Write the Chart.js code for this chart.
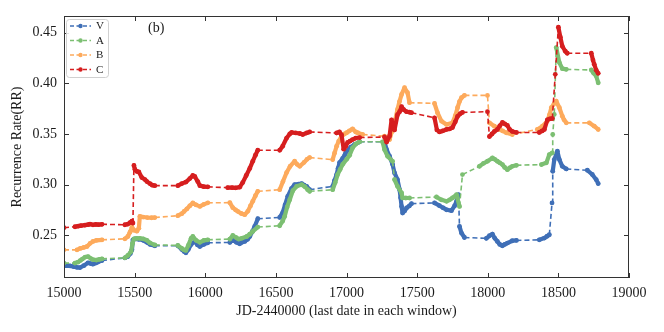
<!DOCTYPE html>
<html><head><meta charset="utf-8">
<script src="https://cdn.jsdelivr.net/npm/chart.js@4.4.1/dist/chart.umd.min.js"></script>
<style>html,body{margin:0;padding:0;background:#fff}</style>
</head><body>
<canvas id="c" width="664" height="332"></canvas>
<script>
const X_TICKS = [15000,15500,16000,16500,17000,17500,18000,18500,19000];
const Y_TICKS = [0.25,0.30,0.35,0.40,0.45];
const NAMES = ['V','A','B','C'];
const COLORS = ['#3f6fb7','#7cbf72','#fdaa5c','#d61e1f'];

const SERIES_V = [
[15000,0.2198],[15042,0.2198],[15070,0.2190],[15092,0.2183],[15113,0.2181],[15140,0.2200],[15170,0.2228],[15190,0.2220],[15205,0.2215],[15225,0.2225],[15240,0.2235],[15269,0.2250],
[15431,0.2277],[15452,0.2290],[15470,0.2320],[15481,0.2356],[15488,0.2455],[15502,0.2465],[15530,0.2460],[15560,0.2450],[15587,0.2430],[15610,0.2410],[15643,0.2396],
[15806,0.2396],[15834,0.2360],[15850,0.2340],[15863,0.2327],[15880,0.2360],[15900,0.2410],[15926,0.2439],[15945,0.2405],[15962,0.2389],[15990,0.2410],[16018,0.2426],
[16174,0.2429],[16195,0.2455],[16220,0.2430],[16244,0.2416],[16260,0.2430],[16280,0.2439],[16300,0.2460],[16315,0.2488],[16335,0.2540],[16350,0.2587],[16372,0.2663],
[16527,0.2676],[16548,0.2723],[16565,0.2800],[16584,0.2884],[16610,0.2960],[16633,0.3000],[16660,0.3005],[16683,0.3010],[16700,0.2995],[16718,0.2983],[16739,0.2950],
[16902,0.2983],[16915,0.3040],[16930,0.3099],[16940,0.3160],[16951,0.3218],[16973,0.3260],[16990,0.3300],[17001,0.3330],[17030,0.3370],[17057,0.3396],[17093,0.3423],
[17269,0.3423],[17284,0.3346],[17305,0.3280],[17326,0.3200],[17340,0.3116],[17361,0.3049],[17376,0.2950],[17383,0.2870],[17390,0.2785],[17397,0.2720],[17411,0.2740],[17425,0.2769],[17445,0.2790],[17460,0.2812],
[17623,0.2819],[17658,0.2792],[17685,0.2770],[17708,0.2752],[17743,0.2743],[17765,0.2790],[17779,0.2835],[17793,0.2901],
[17800,0.2587],[17814,0.2522],[17835,0.2478],
[17990,0.2470],[18012,0.2495],[18033,0.2512],[18050,0.2470],[18068,0.2439],[18085,0.2410],[18104,0.2396],[18120,0.2410],[18139,0.2423],[18174,0.2446],[18203,0.2449],
[18365,0.2455],[18401,0.2472],[18420,0.2490],[18436,0.2505],
[18455,0.2819],[18460,0.3132],[18471,0.3247],[18493,0.3330],[18507,0.3247],[18528,0.3181],[18556,0.3155],
[18705,0.3142],[18740,0.3100],[18768,0.3049],[18782,0.3010]
];

const SERIES_A = [
[15000,0.2225],[15078,0.2225],[15100,0.2235],[15115,0.2250],[15130,0.2265],[15150,0.2285],[15170,0.2290],[15190,0.2270],[15205,0.2260],[15230,0.2255],[15250,0.2262],[15269,0.2267],
[15431,0.2277],[15452,0.2300],[15475,0.2340],[15485,0.2420],[15495,0.2465],[15516,0.2470],[15537,0.2470],[15560,0.2465],[15587,0.2450],[15608,0.2425],[15643,0.2405],
[15806,0.2400],[15834,0.2370],[15850,0.2355],[15863,0.2350],[15880,0.2400],[15900,0.2470],[15912,0.2488],[15935,0.2450],[15962,0.2430],[15990,0.2450],[16018,0.2455],
[16174,0.2462],[16195,0.2498],[16216,0.2480],[16235,0.2462],[16258,0.2470],[16294,0.2488],[16315,0.2510],[16336,0.2538],[16372,0.2581],
[16527,0.2594],[16548,0.2640],[16562,0.2686],[16580,0.2780],[16598,0.2851],[16620,0.2940],[16647,0.2983],[16683,0.3000],[16705,0.2980],[16725,0.2950],[16739,0.2934],
[16902,0.2950],[16920,0.3020],[16937,0.3099],[16955,0.3150],[16973,0.3200],[17001,0.3250],[17022,0.3290],[17043,0.3363],[17065,0.3400],[17093,0.3423],
[17255,0.3423],[17269,0.3346],[17291,0.3280],[17326,0.3230],[17340,0.3050],[17361,0.2983],[17390,0.2918],[17397,0.2868],[17420,0.2868],[17446,0.2868],
[17637,0.2878],[17672,0.2850],[17708,0.2835],[17730,0.2850],[17750,0.2868],[17779,0.2901],[17800,0.2785],
[17821,0.3099],
[17941,0.3181],[17970,0.3210],[17998,0.3231],[18033,0.3264],[18050,0.3250],[18068,0.3231],[18085,0.3215],[18104,0.3198],[18120,0.3170],[18139,0.3148],[18155,0.3165],[18174,0.3181],[18203,0.3191],
[18380,0.3198],[18415,0.3215],[18436,0.3297],[18457,0.3314],
[18460,0.3495],[18471,0.3693],[18485,0.4353],[18507,0.4205],[18528,0.4145],[18556,0.4138],
[18733,0.4132],[18750,0.4100],[18768,0.4072],[18782,0.4006]
];

const SERIES_B = [
[15000,0.2356],[15092,0.2356],[15115,0.2370],[15140,0.2380],[15163,0.2389],[15185,0.2420],[15205,0.2439],[15230,0.2450],[15269,0.2455],
[15431,0.2465],[15452,0.2488],[15467,0.2530],[15481,0.2580],[15495,0.2550],[15516,0.2540],[15530,0.2570],[15537,0.2686],[15560,0.2680],[15590,0.2675],[15620,0.2673],[15643,0.2675],
[15806,0.2693],[15834,0.2713],[15850,0.2735],[15870,0.2760],[15890,0.2790],[15912,0.2819],[15935,0.2800],[15962,0.2785],[15990,0.2805],[16018,0.2820],
[16174,0.2822],[16195,0.2772],[16215,0.2750],[16230,0.2736],[16255,0.2715],[16280,0.2703],[16301,0.2736],[16320,0.2790],[16336,0.2835],[16355,0.2890],[16372,0.2934],
[16527,0.2950],[16550,0.3030],[16576,0.3119],[16600,0.3180],[16633,0.3231],[16650,0.3200],[16669,0.3181],[16700,0.3220],[16720,0.3250],[16739,0.3267],
[16902,0.3247],[16915,0.3310],[16930,0.3379],[16945,0.3430],[16965,0.3478],[16985,0.3500],[17001,0.3512],[17020,0.3530],[17043,0.3551],[17065,0.3520],[17079,0.3512],[17114,0.3495],
[17269,0.3478],[17305,0.3445],[17320,0.3520],[17340,0.3610],[17361,0.3742],[17375,0.3820],[17390,0.3891],[17411,0.3957],[17432,0.3908],[17446,0.3809],
[17623,0.3802],[17644,0.3710],[17672,0.3627],[17708,0.3594],[17750,0.3610],[17770,0.3680],[17786,0.3759],[17800,0.3820],[17814,0.3858],[17835,0.3881],
[17998,0.3881],[18012,0.3610],[18047,0.3577],[18083,0.3545],[18105,0.3530],[18132,0.3512],[18174,0.3495],
[18351,0.3545],[18387,0.3577],[18422,0.3627],[18437,0.3690],[18450,0.3759],[18470,0.3800],[18485,0.3825],[18507,0.3759],[18528,0.3676],[18540,0.3640],[18556,0.3610],
[18719,0.3610],[18754,0.3577],[18782,0.3545]
];

const SERIES_C = [
[15000,0.2574],[15078,0.2584],[15100,0.2590],[15120,0.2595],[15148,0.2600],[15170,0.2605],[15184,0.2610],[15205,0.2603],[15225,0.2607],[15245,0.2605],[15269,0.2608],
[15431,0.2604],[15452,0.2610],[15467,0.2625],[15481,0.2640],[15488,0.2620],
[15495,0.3190],[15502,0.3150],[15516,0.3130],[15530,0.3125],[15551,0.3070],[15573,0.3050],[15587,0.3030],[15608,0.3010],[15625,0.2995],[15643,0.2990],
[15806,0.2990],[15834,0.3010],[15863,0.3025],[15891,0.3060],[15912,0.3090],[15926,0.3080],[15947,0.3030],[15962,0.2990],[15990,0.2980],[16018,0.2978],
[16159,0.2970],[16190,0.2970],[16215,0.2968],[16244,0.2975],[16265,0.3020],[16290,0.3090],[16315,0.3160],[16336,0.3230],[16355,0.3290],[16372,0.3340],
[16527,0.3340],[16548,0.3380],[16576,0.3460],[16598,0.3500],[16612,0.3515],[16640,0.3510],[16669,0.3505],[16690,0.3495],[16718,0.3510],[16739,0.3520],
[16930,0.3510],[16950,0.3520],[16965,0.3490],[16980,0.3350],[16995,0.3380],[17008,0.3416],[17025,0.3430],[17043,0.3445],[17065,0.3460],[17093,0.3465],
[17269,0.3470],[17284,0.3420],[17305,0.3480],[17319,0.3640],[17330,0.3560],[17340,0.3540],[17361,0.3690],[17376,0.3720],[17390,0.3770],[17405,0.3740],[17425,0.3720],[17445,0.3715],[17460,0.3710],
[17623,0.3660],[17640,0.3540],[17658,0.3520],[17680,0.3530],[17708,0.3545],[17730,0.3550],[17750,0.3564],[17770,0.3620],[17786,0.3673],[17805,0.3700],[17821,0.3713],
[17998,0.3720],[18012,0.3475],[18030,0.3500],[18047,0.3525],[18068,0.3545],[18085,0.3580],[18104,0.3614],[18120,0.3600],[18139,0.3584],[18155,0.3545],[18174,0.3525],[18203,0.3515],
[18365,0.3515],[18385,0.3530],[18401,0.3545],[18422,0.3640],[18440,0.3650],[18457,0.3653],
[18478,0.4089],[18500,0.4554],[18514,0.4455],[18528,0.4366],[18549,0.4317],[18563,0.4297],
[18733,0.4297],[18745,0.4230],[18754,0.4188],[18768,0.4130],[18782,0.4099]
];

const ALL_SERIES = [SERIES_V, SERIES_A, SERIES_B, SERIES_C];
const FONT = "'Liberation Serif', 'DejaVu Serif', serif";
const TEXT = '#1a1a1a';

function isGap(ctx){
  const a = ctx.p0.parsed, b = ctx.p1.parsed;
  return (b.x - a.x) > 55 || Math.abs(b.y - a.y) > 0.017;
}

const datasets = ALL_SERIES.map((s, i) => ({
  label: NAMES[i],
  data: s.map(p => ({x: p[0], y: p[1]})),
  borderColor: COLORS[i],
  backgroundColor: COLORS[i],
  pointBackgroundColor: COLORS[i],
  pointBorderWidth: 0,
  pointRadius: 2.4,
  pointHoverRadius: 2.4,
  borderWidth: 4.2,
  borderCapStyle: 'round',
  borderJoinStyle: 'round',
  tension: 0,
  order: 3 - i,
  segment: {
    borderDash: ctx => isGap(ctx) ? [5, 3] : [],
    borderWidth: ctx => isGap(ctx) ? 1.6 : 4.2,
    borderCapStyle: ctx => isGap(ctx) ? 'butt' : 'round'
  }
}));

const decor = {
  id: 'decor',
  afterDraw(chart){
    const {ctx, chartArea: a, scales: {x, y}} = chart;
    ctx.save();
    ctx.strokeStyle = '#333';
    ctx.lineWidth = 1;
    ctx.strokeRect(Math.round(a.left) + 0.5, Math.round(a.top) + 0.5, Math.round(a.right - a.left) - 1, Math.round(a.bottom - a.top) - 1);
    const L = 5;
    ctx.beginPath();
    X_TICKS.forEach(v => {
      const px = Math.round(x.getPixelForValue(v)) + 0.5;
      ctx.moveTo(px, a.bottom); ctx.lineTo(px, a.bottom - L);
      ctx.moveTo(px, a.top); ctx.lineTo(px, a.top + L);
    });
    Y_TICKS.forEach(v => {
      const py = Math.round(y.getPixelForValue(v)) + 0.5;
      ctx.moveTo(a.left, py); ctx.lineTo(a.left + L, py);
      ctx.moveTo(a.right, py); ctx.lineTo(a.right - L, py);
    });
    ctx.stroke();

    // legend
    const bx = 66.5, by = 19.5, bw = 42, bh = 58;
    ctx.fillStyle = 'rgba(255,255,255,0.85)';
    ctx.strokeStyle = '#d0d0d0';
    ctx.beginPath();
    ctx.roundRect(bx, by, bw, bh, 3);
    ctx.fill(); ctx.stroke();
    NAMES.forEach((n, i) => {
      const ly = 26 + i * 14.5;
      ctx.strokeStyle = COLORS[i];
      ctx.lineWidth = 1.5;
      ctx.setLineDash([4, 2.5]);
      ctx.beginPath(); ctx.moveTo(70, ly); ctx.lineTo(91, ly); ctx.stroke();
      ctx.setLineDash([]);
      ctx.fillStyle = COLORS[i];
      ctx.beginPath(); ctx.arc(80.5, ly, 2.2, 0, Math.PI * 2); ctx.fill();
      ctx.fillStyle = TEXT;
      ctx.font = '11px ' + FONT;
      ctx.textBaseline = 'middle';
      ctx.textAlign = 'left';
      ctx.fillText(n, 96, ly + 0.5);
    });
    ctx.font = '14px ' + FONT;
    ctx.fillStyle = TEXT;
    ctx.textBaseline = 'middle';
    ctx.fillText('(b)', 148, 28);
    ctx.restore();
  }
};

new Chart(document.getElementById('c'), {
  type: 'line',
  data: { datasets },
  options: {
    responsive: false,
    animation: false,
    devicePixelRatio: 1,
    layout: { padding: { left: 0, right: 35, top: 16, bottom: 0 } },
    plugins: { legend: { display: false }, tooltip: { enabled: false } },
    events: [],
    scales: {
      x: {
        type: 'linear', min: 15000, max: 19000,
        afterBuildTicks: s => { s.ticks = X_TICKS.map(v => ({value: v})); },
        afterFit: s => { s.height = 54; },
        grid: { display: false, drawTicks: false },
        border: { display: false },
        ticks: { padding: 7, autoSkip: false, maxRotation: 0, color: TEXT, font: { family: FONT, size: 14 }, callback: v => String(v) },
        title: { display: true, text: 'JD-2440000 (last date in each window)', color: TEXT, font: { family: FONT, size: 14 }, padding: { top: 0, bottom: 12 } }
      },
      y: {
        type: 'linear', min: 0.2078, max: 0.4665,
        afterBuildTicks: s => { s.ticks = Y_TICKS.map(v => ({value: v})); },
        afterFit: s => { s.width = 64; },
        grid: { display: false, drawTicks: false },
        border: { display: false },
        ticks: { padding: 7, color: TEXT, font: { family: FONT, size: 14 }, callback: v => v.toFixed(2) },
        title: { display: true, text: 'Recurrence Rate(RR)', color: TEXT, font: { family: FONT, size: 14 }, padding: { top: 9, bottom: 0 } }
      }
    }
  },
  plugins: [decor]
});
</script>
</body></html>
